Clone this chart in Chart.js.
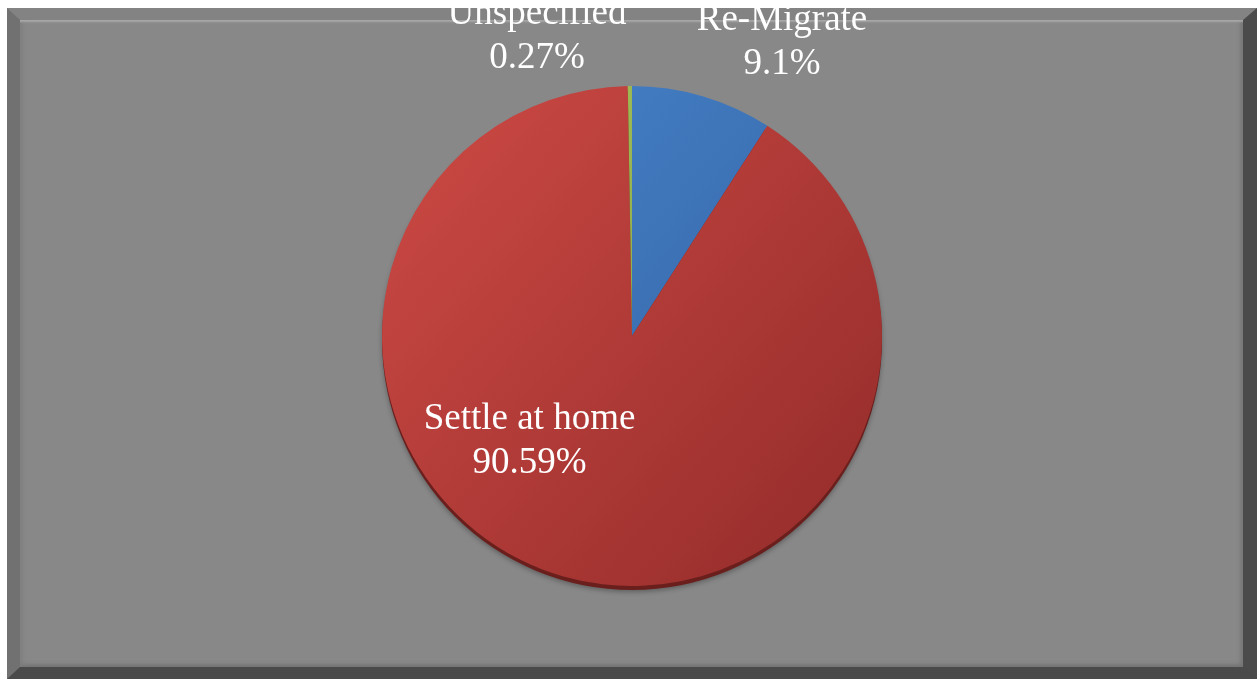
<!DOCTYPE html>
<html>
<head>
<meta charset="utf-8">
<script src="https://cdn.jsdelivr.net/npm/chart.js@4"></script>
<style>
  html, body { margin: 0; padding: 0; background: #fff; width: 1257px; height: 679px; overflow: hidden; }
  .frame {
    position: absolute; left: 7px; top: 8px; width: 1250px; height: 671px;
    box-sizing: border-box; background: #888;
    border-style: solid; border-width: 12px 14px 12px 13px;
    border-color: #838383 #4b4b4b #4a4a4a #717171;
  }
  .frame .inner {
    position: absolute; inset: 0;
    box-shadow: inset 0 3px 2px -1px #a8a8a8, inset 4px 0 4px -2px #7c7c7c, inset -3px -3px 4px -1px #707070;
  }
  #wrap { position: absolute; left: 7px; top: 8px; width: 1250px; height: 671px; }
</style>
</head>
<body>
<div class="frame"><div class="inner"></div></div>
<div id="wrap"><canvas id="chart" width="1250" height="671"></canvas></div>
<script>
const categories = ["Re-Migrate", "Settle at home", "Unspecified"];
const shares = [9.1, 90.59, 0.27];
const shareLabels = ["9.1%", "90.59%", "0.27%"];

// where each label sits, relative to the pie centre, in units of radius
const labelSpots = [
  { x: 0.6, y: -1.175 },
  { x: -0.41, y: 0.42 },
  { x: -0.38, y: -1.2 }
];

const sliceFill = (ctx, top, bottom) => {
  const area = ctx.chart.chartArea;
  if (!area) return top;
  const g = ctx.chart.ctx.createLinearGradient(area.left + area.width * 0.25, area.top, area.left + area.width * 0.7, area.bottom);
  g.addColorStop(0, top);
  g.addColorStop(1, bottom);
  return g;
};

const palettes = [
  ["#4b88d2", "#2f5e9a"],
  ["#d24c47", "#922b29"],
  ["#a8c65e", "#7e9a3c"]
];

const rimPlugin = {
  id: "rim",
  beforeDatasetsDraw(chart) {
    const arc = chart.getDatasetMeta(0).data[0];
    if (!arc) return;
    const c = chart.ctx;
    c.save();
    c.shadowColor = "rgba(0,0,0,0.3)";
    c.shadowBlur = 5;
    c.shadowOffsetY = 2;
    c.beginPath();
    c.arc(arc.x, arc.y + 4, arc.outerRadius, 0, Math.PI * 2);
    c.fillStyle = "#6a1f1d";
    c.fill();
    c.restore();
  }
};

const labelPlugin = {
  id: "sliceLabels",
  afterDatasetsDraw(chart) {
    const meta = chart.getDatasetMeta(0);
    const c = chart.ctx;
    c.save();
    c.fillStyle = "#ffffff";
    c.font = "37px 'Liberation Serif', 'Times New Roman', serif";
    c.textAlign = "center";
    c.textBaseline = "middle";
    meta.data.forEach((arc, i) => {
      const r = arc.outerRadius;
      const x = arc.x + labelSpots[i].x * r;
      const y = arc.y + labelSpots[i].y * r;
      c.fillText(categories[i], x, y - 22);
      c.fillText(shareLabels[i], x, y + 22);
    });
    c.restore();
  }
};

new Chart(document.getElementById("chart"), {
  type: "pie",
  data: {
    labels: categories,
    datasets: [{
      data: shares,
      backgroundColor: ctx => sliceFill(ctx, palettes[ctx.dataIndex][0], palettes[ctx.dataIndex][1]),
      borderWidth: 0
    }]
  },
  options: {
    responsive: false,
    animation: false,
    layout: { padding: { top: 78, bottom: 93, left: 0, right: 0 } },
    plugins: {
      legend: { display: false },
      tooltip: { enabled: false },
      title: { display: false }
    }
  },
  plugins: [rimPlugin, labelPlugin]
});
</script>
</body>
</html>
